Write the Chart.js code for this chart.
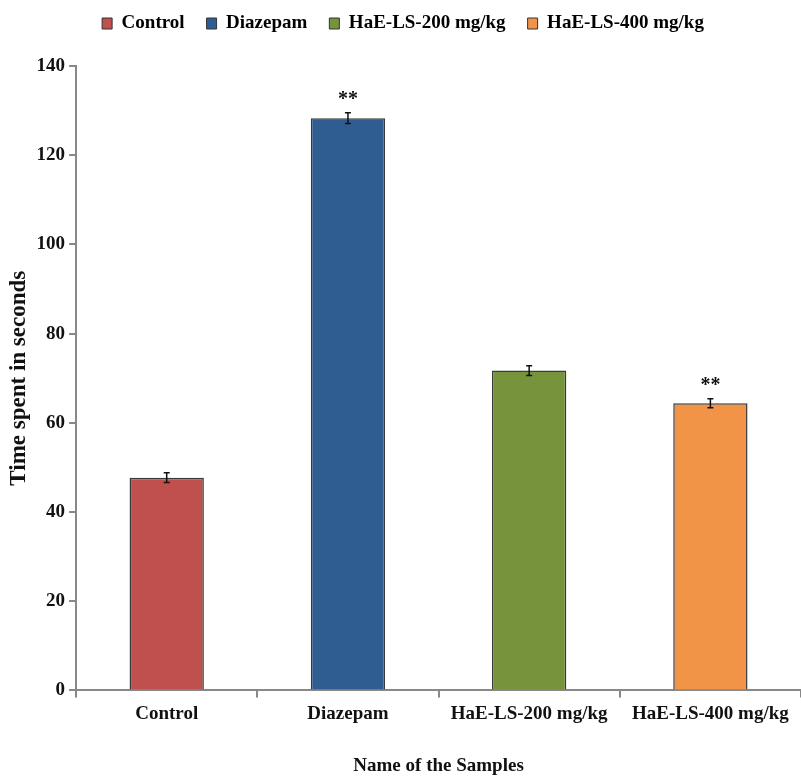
<!DOCTYPE html>
<html>
<head>
<meta charset="utf-8">
<script src="https://cdn.jsdelivr.net/npm/chart.js@4"></script>
<style>
  html, body { margin: 0; padding: 0; background: #fff; }
  #wrap { width: 801px; height: 779px; }
</style>
</head>
<body>
<div id="wrap"><canvas id="timeChart" width="801" height="779"></canvas></div>
<script>
// data
const samples = ["Control", "Diazepam", "HaE-LS-200 mg/kg", "HaE-LS-400 mg/kg"];
const timeSpent = [47.7, 128.3, 71.7, 64.4];
const errors = [1.1, 1.2, 1.1, 1.0];
const signif = ["", "**", "", "**"];
const barColors = ["#C0504D", "#2F5D92", "#77943D", "#F29447"];
const yTicks = [0, 20, 40, 60, 80, 100, 120, 140];

const serif = "'Liberation Serif', 'Times New Roman', serif";

// extra room under the legend
const legendGap = {
  id: "legendGap",
  beforeInit(chart) {
    const fit = chart.legend.fit;
    chart.legend.fit = function () {
      fit.bind(chart.legend)();
      this.height += 23;
    };
  }
};

// error bars + asterisks on top of bars
const errorBarPlugin = {
  id: "errorBars",
  afterDatasetsDraw(chart) {
    const ctx = chart.ctx;
    const y = chart.scales.y;
    const meta = chart.getDatasetMeta(0);
    ctx.save();
    ctx.strokeStyle = "#111";
    ctx.lineWidth = 1.5;
    meta.data.forEach((bar, i) => {
      const x = bar.x;
      const top = y.getPixelForValue(timeSpent[i] + errors[i]);
      const bot = y.getPixelForValue(timeSpent[i] - errors[i]);
      ctx.beginPath();
      ctx.moveTo(x, top); ctx.lineTo(x, bot);
      ctx.moveTo(x - 3, top); ctx.lineTo(x + 3, top);
      ctx.moveTo(x - 3, bot); ctx.lineTo(x + 3, bot);
      ctx.stroke();
      if (signif[i]) {
        ctx.fillStyle = "#111";
        ctx.font = "bold 20px " + serif;
        ctx.textAlign = "center";
        ctx.textBaseline = "bottom";
        ctx.fillText(signif[i], x, top - 3);
      }
    });
    ctx.restore();
  }
};

const ctx = document.getElementById("timeChart").getContext("2d");

new Chart(ctx, {
  type: "bar",
  data: {
    labels: samples,
    datasets: [{
      label: "Time spent",
      data: timeSpent,
      backgroundColor: barColors,
      borderColor: "#3a3a3a",
      borderWidth: 1.5,
      categoryPercentage: 1.0,
      barPercentage: 0.41
    }]
  },
  options: {
    responsive: false,
    animation: false,
    layout: { padding: { left: 5, right: 0, top: -8, bottom: 2 } },
    plugins: {
      tooltip: { enabled: false },
      legend: {
        position: "top",
        labels: {
          color: "#111",
          font: { family: serif, size: 19, weight: "bold" },
          boxWidth: 10,
          boxHeight: 11,
          padding: 22,
          generateLabels: (chart) => samples.map((s, i) => ({
            text: s,
            fillStyle: barColors[i],
            strokeStyle: "#333",
            lineWidth: 1,
            index: i
          }))
        }
      }
    },
    scales: {
      x: {
        grid: {
          offset: true,
          drawOnChartArea: false,
          drawTicks: true,
          tickLength: 7,
          color: "#888",
          lineWidth: 2
        },
        border: { color: "#888", width: 2 },
        ticks: {
          color: "#111",
          font: { family: serif, size: 19, weight: "bold" },
          padding: 5,
          maxRotation: 0
        },
        title: {
          display: true,
          text: "Name of the Samples",
          color: "#111",
          font: { family: serif, size: 19, weight: "bold" },
          padding: { top: 24, bottom: 0 }
        }
      },
      y: {
        min: 0,
        max: 140,
        afterBuildTicks: (axis) => { axis.ticks = yTicks.map(v => ({ value: v })); },
        grid: {
          drawOnChartArea: false,
          drawTicks: true,
          tickLength: 7,
          color: "#888",
          lineWidth: 2
        },
        border: { color: "#888", width: 2 },
        ticks: {
          color: "#111",
          font: { family: serif, size: 19, weight: "bold" },
          padding: 4
        },
        title: {
          display: true,
          text: "Time spent in seconds",
          color: "#111",
          font: { family: serif, size: 23, weight: "bold" },
          padding: { top: 0, bottom: 0 }
        }
      }
    }
  },
  plugins: [legendGap, errorBarPlugin]
});
</script>
</body>
</html>
